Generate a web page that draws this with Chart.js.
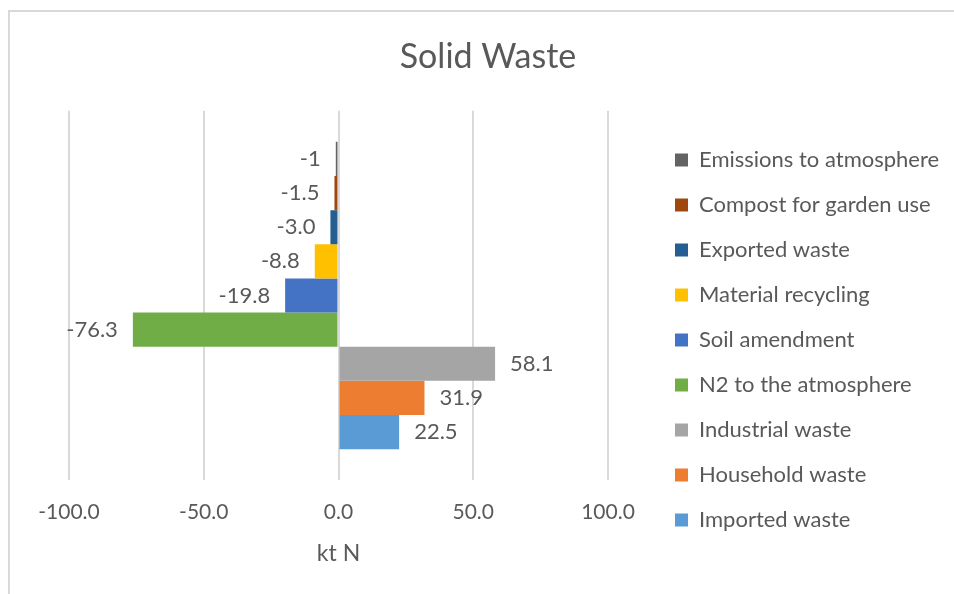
<!DOCTYPE html>
<html>
<head>
<meta charset="utf-8">
<script src="https://cdn.jsdelivr.net/npm/chart.js@4/dist/chart.umd.min.js"></script>
<style>
    html, body { margin: 0; padding: 0; background: #fff; overflow: hidden; }
    .cornice {
        position: absolute;
        left: 8px;
        top: 10px;
        width: 960px;
        height: 600px;
        border-top: 2px solid #d9d9d9;
        border-left: 2px solid #d9d9d9;
    }
    #grafico-rifiuti { display: block; }
</style>
</head>
<body>
<div class="cornice">
    <canvas id="grafico-rifiuti" width="944" height="582"></canvas>
</div>
<script>
// dati (ordine dall'alto verso il basso)
var titolo = 'Solid Waste';
var nomiSerie = ['Emissions to atmosphere', 'Compost for garden use', 'Exported waste', 'Material recycling', 'Soil amendment', 'N2 to the atmosphere', 'Industrial waste', 'Household waste', 'Imported waste'];
var valori = [-1, -1.5, -3.0, -8.8, -19.8, -76.3, 58.1, 31.9, 22.5];
var etichetteValori = ['-1', '-1.5', '-3.0', '-8.8', '-19.8', '-76.3', '58.1', '31.9', '22.5'];
var colori = ['#636363', '#9E480E', '#255E91', '#FFC000', '#4472C4', '#70AD47', '#A5A5A5', '#ED7D31', '#5B9BD5'];
var tickAsse = [-100, -50, 0, 50, 100];
var titoloAsse = 'kt N';

var grigioTesto = '#595959';
var font = 'Lato';

var datasets = [];
for (var i = 0; i < nomiSerie.length; i++) {
    datasets.push({
        label: nomiSerie[i],
        data: [valori[i]],
        backgroundColor: colori[i],
        borderWidth: 0
    });
}

// etichette dei valori accanto alla fine delle barre
var pluginEtichette = {
    id: 'etichetteBarre',
    afterDatasetsDraw: function (chart) {
        var ctx = chart.ctx;
        ctx.save();
        ctx.font = '22px ' + font;
        ctx.fillStyle = grigioTesto;
        ctx.textBaseline = 'middle';
        for (var i = 0; i < chart.data.datasets.length; i++) {
            var bar = chart.getDatasetMeta(i).data[0];
            if (valori[i] < 0) {
                ctx.textAlign = 'right';
                ctx.fillText(etichetteValori[i], bar.x - 15, bar.y);
            } else {
                ctx.textAlign = 'left';
                ctx.fillText(etichetteValori[i], bar.x + 15, bar.y);
            }
        }
        ctx.restore();
    }
};

// larghezza fissa per la legenda
var pluginLegenda = {
    id: 'larghezzaLegenda',
    beforeInit: function (chart) {
        var legenda = chart.legend;
        if (!legenda) return;
        var fitOriginale = legenda.fit;
        legenda.fit = function () {
            fitOriginale.call(this);
            this.width = 299;
        };
    }
};

var ctx = document.getElementById('grafico-rifiuti');
var grafico = new Chart(ctx, {
    type: 'bar',
    data: {
        labels: [titolo],
        datasets: datasets
    },
    options: {
        indexAxis: 'y',
        responsive: false,
        animation: false,
        layout: {
            padding: { left: 15, right: 3, top: 0, bottom: 0 }
        },
        datasets: {
            bar: {
                barPercentage: 1,
                categoryPercentage: 0.832
            }
        },
        scales: {
            x: {
                min: -100,
                max: 100,
                afterBuildTicks: function (scale) {
                    scale.ticks = tickAsse.map(function (v) { return { value: v }; });
                },
                grid: {
                    color: '#d9d9d9',
                    lineWidth: 2,
                    drawTicks: false
                },
                border: { display: false },
                ticks: {
                    padding: 19,
                    color: grigioTesto,
                    font: { family: font, size: 21 },
                    callback: function (v) { return Number(v).toFixed(1); }
                },
                title: {
                    display: true,
                    text: titoloAsse,
                    color: grigioTesto,
                    font: { family: font, size: 23 },
                    padding: { top: -4, bottom: 27 }
                }
            },
            y: {
                position: 'left',
                grid: { display: false },
                border: { display: false },
                ticks: { display: false },
                afterFit: function (scale) { scale.width = 44; }
            },
            y2: {
                type: 'category',
                position: 'right',
                grid: { display: false },
                border: { display: false },
                ticks: { display: false },
                afterFit: function (scale) { scale.width = 44; }
            }
        },
        plugins: {
            title: {
                display: true,
                text: titolo,
                color: grigioTesto,
                font: { family: font, size: 34, weight: 'normal' },
                padding: { top: 25, bottom: 33 }
            },
            legend: {
                position: 'right',
                align: 'start',
                title: {
                    display: true,
                    text: '',
                    font: { family: font, size: 20 },
                    padding: { top: 90, bottom: 0 }
                },
                labels: {
                    boxWidth: 13,
                    boxHeight: 13,
                    padding: 23,
                    color: grigioTesto,
                    font: { family: font, size: 22 }
                }
            },
            tooltip: { enabled: false }
        }
    },
    plugins: [pluginEtichette, pluginLegenda]
});
</script>
</body>
</html>
